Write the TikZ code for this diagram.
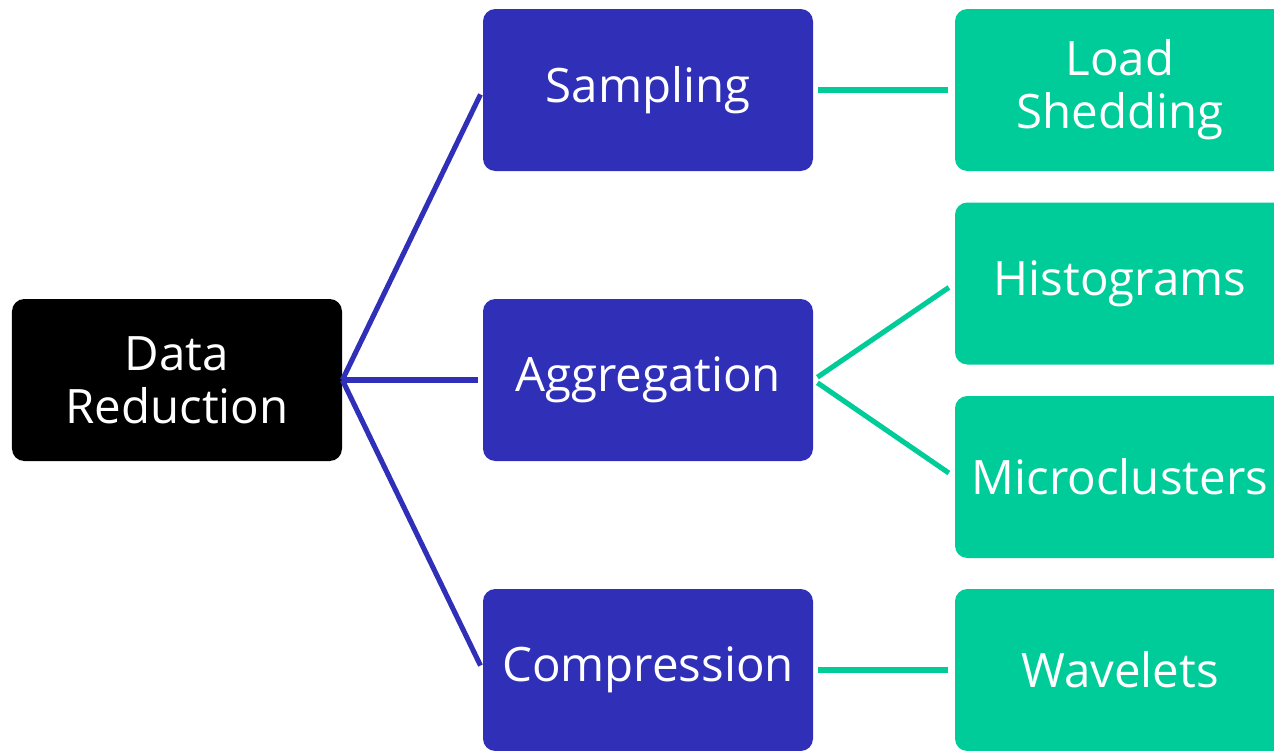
\documentclass[tikz,border=0pt]{standalone}
\usepackage{fontspec}
\setmainfont{Open Sans}
\usetikzlibrary{positioning}
\usetikzlibrary{calc}

\definecolor{rootblack}{HTML}{000000}
\definecolor{midblue}{HTML}{2F2FB8}
\definecolor{leafgreen}{HTML}{00CC99}

\begin{document}
\begin{tikzpicture}
\tikzstyle{box} =[rectangle,rounded corners=7pt,minimum width=6.6cm,minimum height=3.24cm,text=white,align=center,font=\fontsize{27}{30}\selectfont,inner sep=0pt]
\tikzstyle{root} =[box,fill=rootblack]
\tikzstyle{method} =[box,fill=midblue]
\tikzstyle{technique} =[box,fill=leafgreen]
\tikzstyle{bluelink} =[draw=midblue,line width=2.9pt,shorten >=2.8pt]
\tikzstyle{greenlink} =[draw=leafgreen,line width=2.9pt,shorten <=2.8pt,shorten >=4pt]
\useasboundingbox (0,0) rectangle (25.48,-15);
\clip (0,0) rectangle (25.48,-15);

\node[root](reduction) at (3.54,-7.6) {Data\\Reduction};

\node[method](sampling) at (12.96,-1.8){Sampling};
\node[method](aggregation) at (12.96,-7.6){Aggregation};
\node[method](compression) at (12.96,-13.4){Compression};

\node[technique](shedding) at (22.4,-1.8){Load\\Shedding};
\node[technique](histograms) at (22.4,-5.67){Histograms};
\node[technique](microclusters) at (22.4,-9.54){Microclusters};
\node[technique](wavelets) at (22.4,-13.4){Wavelets};

\draw[bluelink] (reduction.east)--(sampling.west);
\draw[bluelink] (reduction.east)--(aggregation.west);
\draw[bluelink] (reduction.east)--(compression.west);

\draw[greenlink] (sampling.east)--(shedding.west);
\draw[greenlink] (aggregation.east)--(histograms.west);
\draw[greenlink] (aggregation.east)--(microclusters.west);
\draw[greenlink] (compression.east)--(wavelets.west);
\end{tikzpicture}
\end{document}
